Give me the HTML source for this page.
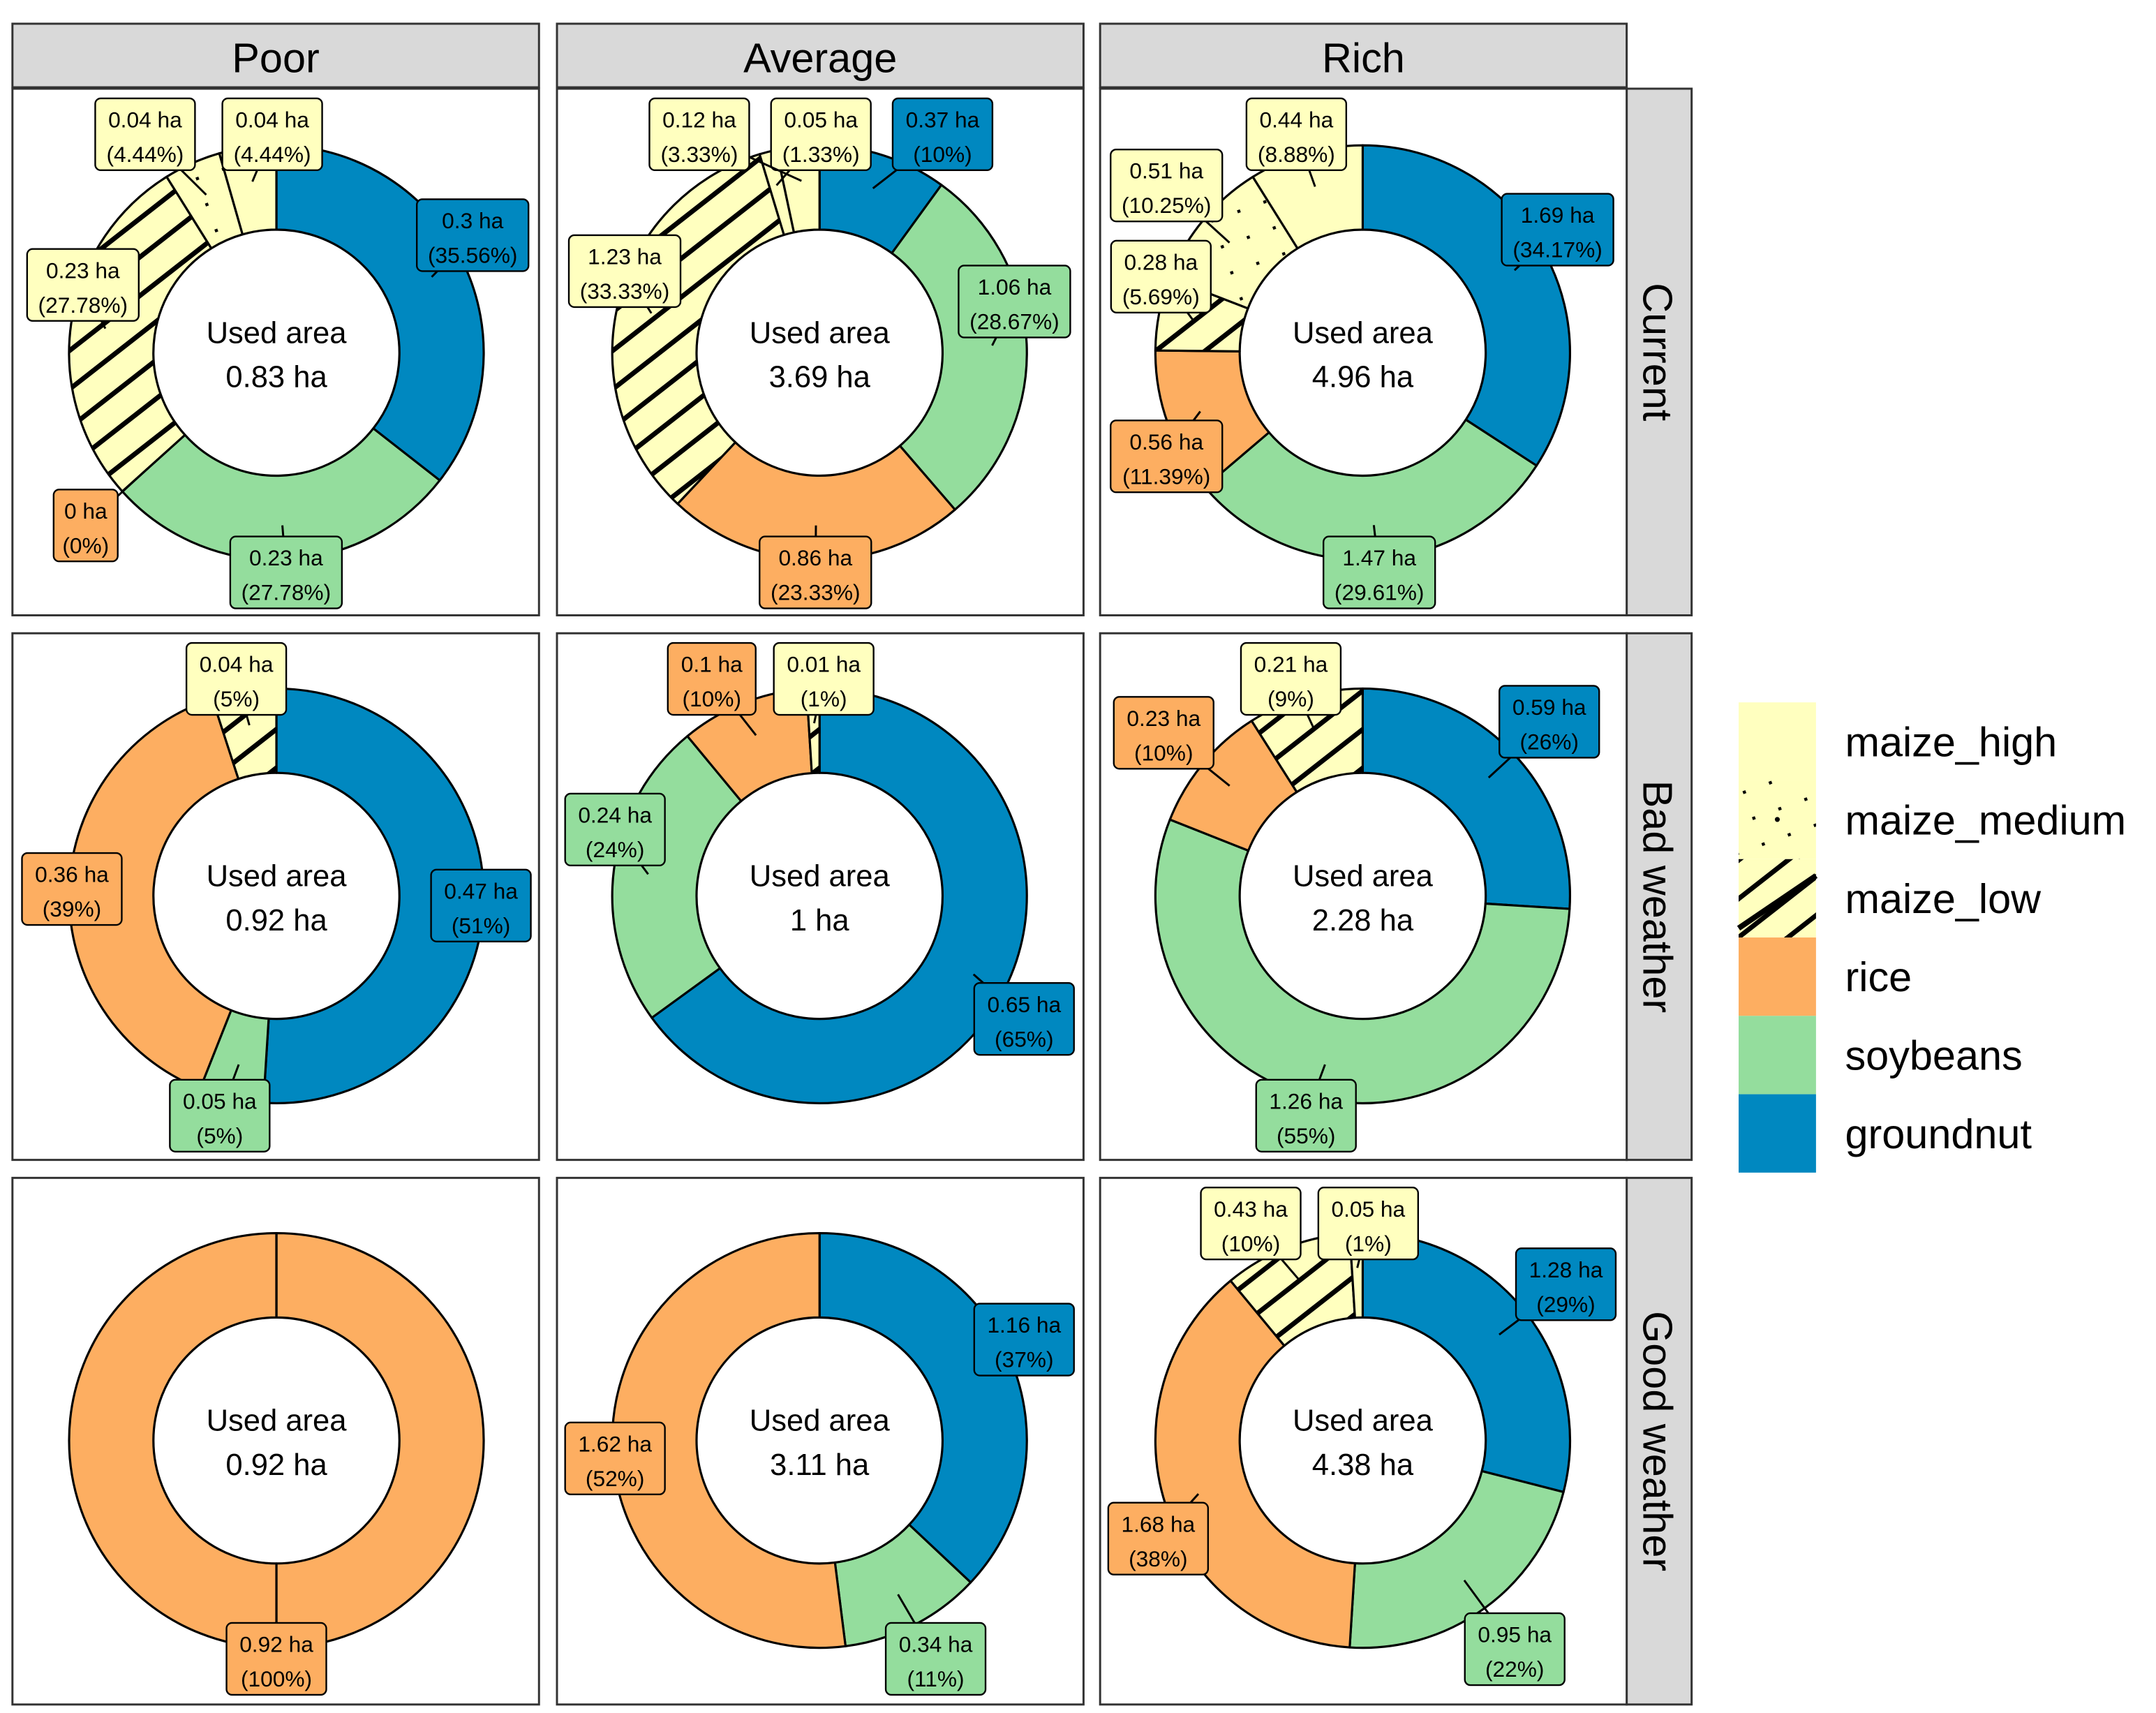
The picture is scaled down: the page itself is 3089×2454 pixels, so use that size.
<!DOCTYPE html>
<html><head><meta charset="utf-8"><style>html,body{margin:0;padding:0;background:#fff}svg{display:block}</style></head>
<body>
<svg id="s" xmlns="http://www.w3.org/2000/svg" width="3089" height="2454" viewBox="0 0 1560 1239" font-family="Liberation Sans, sans-serif">
<defs>
<pattern id="low" patternUnits="userSpaceOnUse" width="22" height="22" patternTransform="rotate(-38)">
<rect width="22" height="22" fill="#ffffbf"/><rect y="9" width="22" height="3.5" fill="#000"/></pattern>
<pattern id="med" patternUnits="userSpaceOnUse" width="20" height="20" patternTransform="rotate(-20)">
<rect width="20" height="20" fill="#ffffbf"/><rect x="9" y="9" width="2.2" height="2.2" fill="#000"/></pattern>
</defs>
<g id="g"></g>
</svg>
<script>
var C={g:"#0088c0",s:"#94dd9d",r:"#fdae61",l:"url(#low)",m:"url(#med)",h:"#ffffbf"};
var LF={g:"#0088c0",s:"#94dd9d",r:"#fdae61",l:"#ffffbf",m:"#ffffbf",h:"#ffffbf"};
var cols=[200,593,986],rows=[255,648,1042],px=[9,403,796],py=[64,458,852];
var P=[
[0,0,"0.83 ha",[["g",.3556,"0.3 ha","(35.56%)",342,170],["s",.2778,"0.23 ha","(27.78%)",207,414],["r",0,"0 ha","(0%)",62,380],["l",.2778,"0.23 ha","(27.78%)",60,206],["m",.0444,"0.04 ha","(4.44%)",105,97],["h",.0444,"0.04 ha","(4.44%)",197,97]]],
[1,0,"3.69 ha",[["g",.10,"0.37 ha","(10%)",682,97],["s",.2867,"1.06 ha","(28.67%)",734,218],["r",.2333,"0.86 ha","(23.33%)",590,414],["l",.3333,"1.23 ha","(33.33%)",452,196],["m",.0133,"0.05 ha","(1.33%)",594,97],["h",.0334,"0.12 ha","(3.33%)",506,97]]],
[2,0,"4.96 ha",[["g",.3417,"1.69 ha","(34.17%)",1127,166],["s",.2961,"1.47 ha","(29.61%)",998,414],["r",.1139,"0.56 ha","(11.39%)",844,330],["l",.0569,"0.28 ha","(5.69%)",840,200],["m",.1025,"0.51 ha","(10.25%)",844,134],["h",.0889,"0.44 ha","(8.88%)",938,97]]],
[0,1,"0.92 ha",[["g",.51,"0.47 ha","(51%)",348,655],["s",.05,"0.05 ha","(5%)",159,807],["r",.39,"0.36 ha","(39%)",52,643],["l",.05,"0.04 ha","(5%)",171,491]]],
[1,1,"1 ha",[["g",.65,"0.65 ha","(65%)",741,737],["s",.24,"0.24 ha","(24%)",445,600],["r",.10,"0.1 ha","(10%)",515,491],["l",.01,"0.01 ha","(1%)",596,491]]],
[2,1,"2.28 ha",[["g",.26,"0.59 ha","(26%)",1121,522],["s",.55,"1.26 ha","(55%)",945,807],["r",.10,"0.23 ha","(10%)",842,530],["l",.09,"0.21 ha","(9%)",934,491]]],
[0,2,"0.92 ha",[["r",1,"0.92 ha","(100%)",200,1200]]],
[1,2,"3.11 ha",[["g",.37,"1.16 ha","(37%)",741,969],["s",.11,"0.34 ha","(11%)",677,1200],["r",.52,"1.62 ha","(52%)",445,1055]]],
[2,2,"4.38 ha",[["g",.29,"1.28 ha","(29%)",1133,929],["s",.22,"0.95 ha","(22%)",1096,1193],["r",.38,"1.68 ha","(38%)",838,1113],["l",.10,"0.43 ha","(10%)",905,885],["h",.01,"0.05 ha","(1%)",990,885]]]
];
var o="";
function pt(cx,cy,r,a){var t=2*Math.PI*a;return [cx+r*Math.sin(t),cy-r*Math.cos(t)];}
function wedge(cx,cy,a0,a1,f){
 if(a1-a0<=0)return "";
 if(a1-a0>=0.999){return wedge(cx,cy,a0,a0+.5,f)+wedge(cx,cy,a0+.5,a1,f);}
 var R=150,r=89,big=(a1-a0)>.5?1:0;
 var p1=pt(cx,cy,R,a0),p2=pt(cx,cy,R,a1),p3=pt(cx,cy,r,a1),p4=pt(cx,cy,r,a0);
 return '<path d="M'+p1+' A'+R+','+R+' 0 '+big+' 1 '+p2+' L'+p3+' A'+r+','+r+' 0 '+big+' 0 '+p4+' Z" fill="'+f+'" stroke="#000" stroke-width="1.6" stroke-linejoin="round"/>';
}
var labels="";
// strips
var heads=["Poor","Average","Rich"];
for(var i=0;i<3;i++){o+='<rect x="'+px[i]+'" y="17" width="381" height="46" fill="#d9d9d9" stroke="#333" stroke-width="1.5"/><text x="'+(px[i]+190.5)+'" y="52" font-size="30" text-anchor="middle">'+heads[i]+'</text>';}
var rh=["Current","Bad weather","Good weather"];
for(var j=0;j<3;j++){o+='<rect x="1177" y="'+py[j]+'" width="47" height="381" fill="#d9d9d9" stroke="#333" stroke-width="1.5"/><text transform="translate(1189,'+(py[j]+190.5)+') rotate(90)" font-size="30" text-anchor="middle">'+rh[j]+'</text>';}
for(var i=0;i<3;i++)for(var j=0;j<3;j++)o+='<rect x="'+px[i]+'" y="'+py[j]+'" width="381" height="381" fill="#fff" stroke="#333" stroke-width="1.5"/>';
P.forEach(function(p){
 var cx=cols[p[0]],cy=rows[p[1]],a=0,segs=p[3];
 segs.forEach(function(s){var a1=a+s[1];o+=wedge(cx,cy,a,a1,C[s[0]]);
  var mid=(a+a1)/2,q=pt(cx,cy,125,mid);
  labels+='<line x1="'+q[0]+'" y1="'+q[1]+'" x2="'+s[4]+'" y2="'+s[5]+'" stroke="#000" stroke-width="1.5"/>';
  var w=Math.max(s[2].length,s[3].length)*8.6+12;
  labels+='<rect x="'+(s[4]-w/2)+'" y="'+(s[5]-26)+'" width="'+w+'" height="52" rx="4" fill="'+LF[s[0]]+'" stroke="#000" stroke-width="1.2"/>';
  labels+='<text x="'+s[4]+'" y="'+(s[5]-5)+'" font-size="16" text-anchor="middle">'+s[2]+'</text><text x="'+s[4]+'" y="'+(s[5]+20)+'" font-size="16" text-anchor="middle">'+s[3]+'</text>';
  a=a1;});
 if(segs.length==1){var t=pt(cx,cy,150,0),b=pt(cx,cy,89,0);o+='<line x1="'+t[0]+'" y1="'+t[1]+'" x2="'+b[0]+'" y2="'+b[1]+'" stroke="#000" stroke-width="1.6"/>';}
 o+='<text x="'+cx+'" y="'+(cy-7)+'" font-size="22" text-anchor="middle">Used area</text><text x="'+cx+'" y="'+(cy+25)+'" font-size="22" text-anchor="middle">'+p[2]+'</text>';
});
o+=labels;
var lg=[["h","maize_high"],["m","maize_medium"],["l","maize_low"],["r","rice"],["s","soybeans"],["g","groundnut"]];
lg.forEach(function(l,k){var y=508+k*56.7;o+='<rect x="1258" y="'+y+'" width="56" height="56.7" fill="'+C[l[0]]+'"/>';
 if(l[0]=="m")o+='<circle cx="1286" cy="'+(y+28)+'" r="1.8" fill="#000"/>';
 if(l[0]=="l")o+='<line x1="1258" y1="'+(y+50)+'" x2="1314" y2="'+(y+12)+'" stroke="#000" stroke-width="4"/>';
 o+='<text x="1335" y="'+(y+39)+'" font-size="30">'+l[1]+'</text>';});
document.getElementById("g").innerHTML=o;
</script>
</body></html>
